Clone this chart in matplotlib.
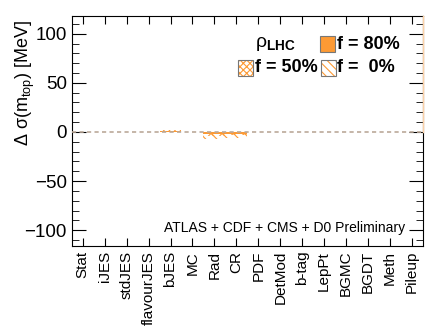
import numpy as np
import matplotlib.pyplot as plt
from matplotlib.patches import Rectangle
from matplotlib.ticker import MultipleLocator

plt.rcParams['font.family'] = ['Liberation Sans', 'DejaVu Sans']
plt.rcParams['mathtext.fontset'] = 'custom'
plt.rcParams['mathtext.rm'] = 'Liberation Sans'
plt.rcParams['mathtext.it'] = 'Liberation Sans'
plt.rcParams['mathtext.bf'] = 'Liberation Sans:bold'
plt.rcParams['hatch.linewidth'] = 0.8

# DATA
sources = ["Stat", "iJES", "stdJES", "flavourJES", "bJES", "MC", "Rad", "CR",
           "PDF", "DetMod", "b-tag", "LepPt", "BGMC", "BGDT", "Meth", "Pileup"]
shift_f0 = [0, 0, 0, 0, 1.2, 0, -7.0, -6.5, 0, 0, 0, 0, 0, 0, 0, 0]
shift_f50 = [0, 0, 0, 0, 1.6, 0, -4.0, -3.5, 0, 0, 0, 0, 0, 0, 0, 0]
shift_f80 = [0, 0, 0, 0, 0.8, 0, -2.0, -2.0, 0, 0, 0, 0, 0, 0, 0, 0]

orange = "#fd9a34"

fig = plt.figure(figsize=(4.45, 3.33), dpi=100)
ax = fig.add_axes([71.7 / 445, 1 - 246 / 333, (423 - 71.7) / 445, (246 - 16) / 333])

x = np.arange(len(sources)) + 0.5

# BARS
ax.bar(x, shift_f0, width=1.0, color="none", edgecolor=orange, hatch="\\\\\\", linewidth=0)
ax.bar(x, shift_f50, width=1.0, color="none", edgecolor=orange, hatch="xxx", linewidth=0)
ax.bar(x, shift_f80, width=1.0, color=orange, edgecolor=orange, linewidth=0)

# ZERO LINE
ax.axhline(0, color="#bba999", linestyle=(0, (2.5, 2)), linewidth=1.2, zorder=4)
ax.plot([16, 16], [0, 118], color="#fcd2a8", linewidth=1.0, clip_on=False, zorder=5)

ax.set_xlim(0, len(sources))
ax.set_ylim(-116, 118)
ax.set_xticks(x)
ax.set_xticklabels(sources, rotation=90, fontsize=11)
ax.yaxis.set_major_locator(MultipleLocator(50))
ax.yaxis.set_minor_locator(MultipleLocator(10))
ax.tick_params(axis="both", which="both", direction="in", top=True, right=True)
ax.tick_params(axis="y", which="major", length=10, labelsize=13.5)
ax.tick_params(axis="y", which="minor", length=5)
ax.tick_params(axis="x", which="major", length=6)

# Y LABEL (top aligned, ROOT style)
fig.text(25 / 445, 1 - 20 / 333, r"$\Delta\ \sigma(\mathrm{m}_{\mathrm{top}})$ [MeV]",
         rotation=90, ha="center", va="top", fontsize=13)

# LEGEND
ax.text(0.522, 0.88, r"$\rho_{\mathbf{LHC}}$", transform=ax.transAxes, fontsize=14, va="center")
def legend_box(xa, ya, hatch=None, fill=None):
    if hatch:
        ax.add_patch(Rectangle((xa, ya), 0.043, 0.066, transform=ax.transAxes, facecolor="white",
                               edgecolor=orange, hatch=hatch, linewidth=0, clip_on=False))
    ax.add_patch(Rectangle((xa, ya), 0.043, 0.066, transform=ax.transAxes,
                           facecolor=fill if fill else "none",
                           edgecolor="#777777", linewidth=0.8, clip_on=False))
legend_box(0.707, 0.845, fill=orange)
ax.text(0.756, 0.878, "f = 80%", transform=ax.transAxes, fontsize=13, fontweight="bold", va="center")
legend_box(0.473, 0.741, hatch="xxxxx")
ax.text(0.522, 0.774, "f = 50%", transform=ax.transAxes, fontsize=13, fontweight="bold", va="center")
legend_box(0.709, 0.741, hatch="\\\\\\\\")
ax.text(0.756, 0.774, "f =  0%", transform=ax.transAxes, fontsize=13, fontweight="bold", va="center")

ax.text(0.949, 0.078, "ATLAS + CDF + CMS + D0 Preliminary", transform=ax.transAxes,
        fontsize=10, ha="right", va="center")

fig.savefig("out.png", dpi=100)
